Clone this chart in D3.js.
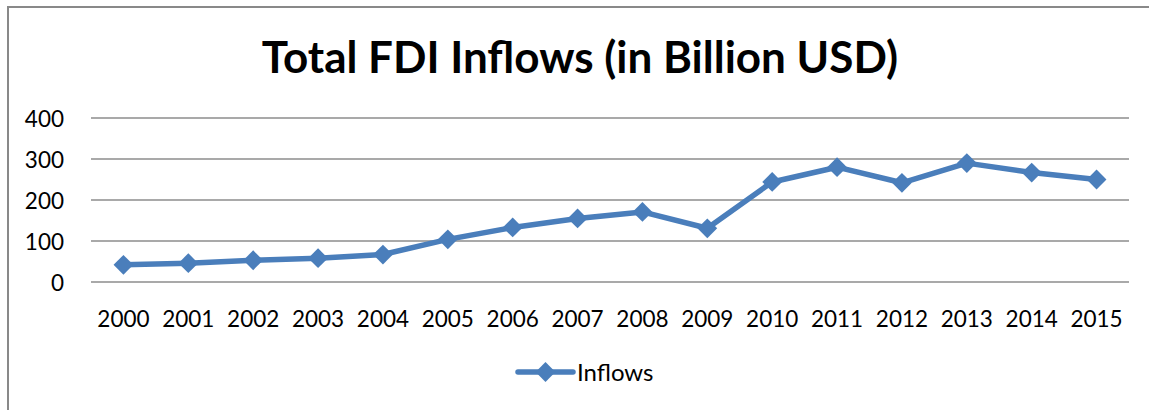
<!DOCTYPE html>
<html>
<head>
<meta charset="utf-8">
<script src="https://cdn.jsdelivr.net/npm/d3@7"></script>
<style>
    body { margin: 0; background: #fff; }
    svg { display: block; }
    text { font-family: Lato, "Open Sans", sans-serif; fill: #000; }
</style>
</head>
<body>
<div class="tuxing"></div>
<script>
    var years = ["2000", "2001", "2002", "2003", "2004", "2005", "2006", "2007",
                 "2008", "2009", "2010", "2011", "2012", "2013", "2014", "2015"];
    var inflows = [42, 46, 53, 58, 67, 104, 133, 155, 171, 131, 244, 280, 242, 290, 267, 250];
    var yTicks = [0, 100, 200, 300, 400];
    var seriesName = "Inflows";
    var title = "Total FDI Inflows (in Billion USD)";

    var width = 1149;   // 画布宽度
    var height = 410;   // 画布高度
    var blue = "#4a7ebb";

    var svg = d3.select(".tuxing")
        .append("svg")
        .attr("width", width)
        .attr("height", height);

    // 外框 (右边和下边在画面外)
    svg.append("rect")
        .attr("x", 8)
        .attr("y", 7)
        .attr("width", 1160)
        .attr("height", 420)
        .attr("fill", "none")
        .attr("stroke", "#898989")
        .attr("stroke-width", 2);

    var x = d3.scaleBand()
        .domain(years)
        .range([91, 1129]);

    var y = d3.scaleLinear()
        .domain([0, 400])
        .range([282, 118]);

    // 网格线
    svg.selectAll(".grid")
        .data(yTicks)
        .enter()
        .append("line")
        .attr("class", "grid")
        .attr("x1", 91)
        .attr("x2", 1129)
        .attr("y1", function (d) { return y(d); })
        .attr("y2", function (d) { return y(d); })
        .attr("stroke", "#8c8c8c")
        .attr("stroke-width", 1.6);

    // y轴
    var yAxis = d3.axisLeft(y).tickValues(yTicks).tickSize(0).tickPadding(0);
    var gy = svg.append("g")
        .attr("transform", "translate(64,0)")
        .call(yAxis);
    gy.select(".domain").remove();
    gy.selectAll("text")
        .attr("font-size", 22.5)
        .attr("dy", "0.36em")
        .style("font-family", "Lato, 'Open Sans', sans-serif");

    // x轴
    var xAxis = d3.axisBottom(x).tickSize(0).tickPadding(0);
    var gx = svg.append("g")
        .attr("transform", "translate(0,327)")
        .call(xAxis);
    gx.select(".domain").remove();
    gx.selectAll("text")
        .attr("font-size", 22.5)
        .attr("dy", 0)
        .attr("y", 0)
        .style("font-family", "Lato, 'Open Sans', sans-serif");

    var cx = function (d, i) { return x(years[i]) + x.bandwidth() / 2; };

    // 折线
    var line = d3.line()
        .x(function (d, i) { return cx(d, i); })
        .y(function (d) { return y(d); });

    svg.append("path")
        .datum(inflows)
        .attr("d", line)
        .attr("fill", "none")
        .attr("stroke", blue)
        .attr("stroke-width", 5.5)
        .attr("stroke-linejoin", "round")
        .attr("stroke-linecap", "round");

    // 菱形标记
    var diamond = d3.symbol().type(d3.symbolDiamond2).size(250);
    svg.selectAll(".pt")
        .data(inflows)
        .enter()
        .append("path")
        .attr("class", "pt")
        .attr("d", diamond)
        .attr("transform", function (d, i) {
            return "translate(" + cx(d, i) + "," + y(d) + ")";
        })
        .attr("fill", blue);

    // 标题
    svg.append("text")
        .attr("x", 580)
        .attr("y", 73)
        .attr("text-anchor", "middle")
        .attr("font-size", 44)
        .attr("font-weight", "bold")
        .text(title);

    // 图例
    var lg = svg.append("g").attr("transform", "translate(518,372)");
    lg.append("line")
        .attr("x1", 0).attr("x2", 55)
        .attr("stroke", blue)
        .attr("stroke-width", 5.5)
        .attr("stroke-linecap", "round");
    lg.append("path")
        .attr("d", diamond)
        .attr("transform", "translate(27.5,0)")
        .attr("fill", blue);
    lg.append("text")
        .attr("x", 59)
        .attr("y", 8.5)
        .attr("font-size", 24)
        .text(seriesName);
</script>
</body>
</html>
